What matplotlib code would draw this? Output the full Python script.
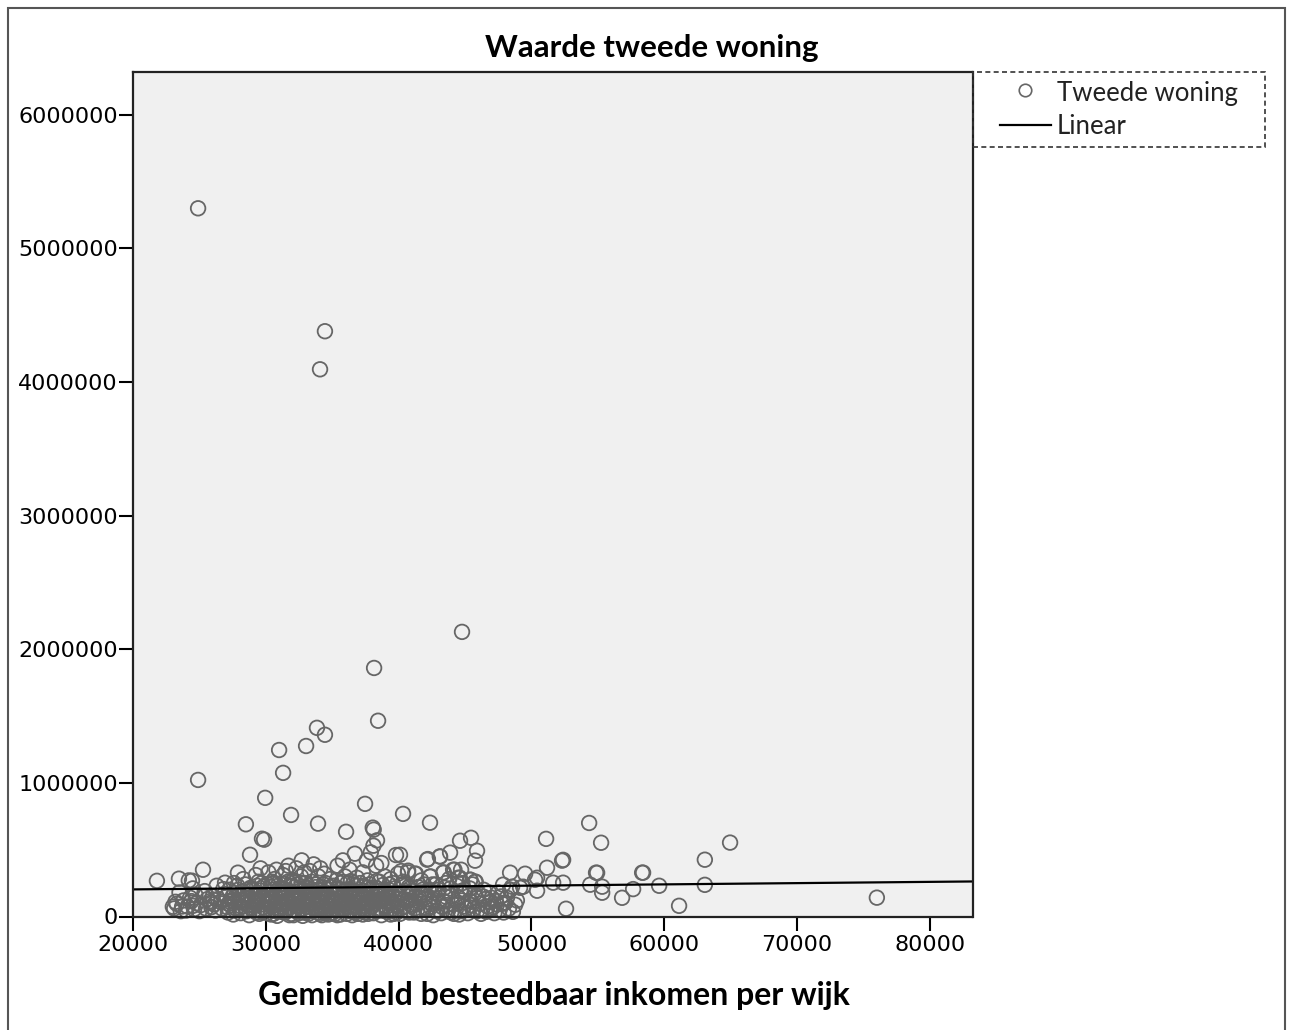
import matplotlib
matplotlib.use("Agg")
import matplotlib.pyplot as plt
import numpy as np
from matplotlib.lines import Line2D
from matplotlib.patches import Rectangle

# Outliers and sparse points (income in euro, value in euro)
outlier_income = [24900, 34450, 34080, 44770, 38150, 38450, 33850, 34450, 31000, 33030,
                  31300, 24900, 29950, 37470, 28500, 31900, 33930, 38050, 38120, 40330,
                  42360, 36040, 29870, 38370, 51100, 54340, 55240, 64950, 63050, 45450,
                  44620, 45900, 58400, 59610, 63050, 61110, 76000, 52600, 29710]
outlier_value = [5300000, 4380000, 4095000, 2130000, 1860000, 1465000, 1412000, 1360000,
                 1246000, 1276000, 1075000, 1022000, 888000, 843000, 690000, 760000, 695000,
                 665000, 650000, 768000, 702000, 634000, 575000, 570000, 581000, 700000,
                 552000, 553000, 425000, 589000, 567000, 492000, 328000, 230000, 237000,
                 80000, 141000, 58000, 582000]

# Points in the upper fringe of the cloud (value in thousands)
spread_income = [21800, 23460, 24440, 25270, 45750, 42140, 43120, 43870, 40710, 41230,
                 40100, 44700, 42360, 43340, 44100, 44480, 45380, 45750, 48390, 49520,
                 50420, 51170, 52380, 54860, 58330, 51630, 52380, 54420, 55320, 56820,
                 57650, 47860, 48540, 49370, 50420, 48770, 50270, 49140, 48390, 48010,
                 55320, 54940, 52300]
spread_value_k = [267, 283, 268, 350, 418, 425, 448, 478, 343, 320,
                  462, 350, 298, 328, 350, 290, 275, 260, 328, 320,
                  290, 365, 424, 328, 328, 253, 253, 238, 178, 140,
                  205, 238, 223, 223, 193, 88, 275, 215, 200, 103,
                  223, 327, 418]

# Dense cloud near the horizontal axis (value in thousands)
core_income = [
    23100, 23300, 23600, 23800, 23500, 23000,
    24100, 24300, 24600, 24800, 24500, 24200, 24520,
    25100, 25300, 25500, 25800, 25400, 25850,
    26100, 26400, 26700, 26900, 26300, 26930,
    27100, 27300, 27500, 27700, 27900, 27600, 27200, 27900,
    28050, 28200, 28400, 28550, 28700, 28850, 28300, 28600, 28900, 28810,
    29050, 29150, 29300, 29450, 29550, 29700, 29800, 29900, 29250, 29600, 29350,
    30050, 30150, 30250, 30350, 30450, 30550, 30650, 30750, 30850, 30950, 30200, 30600, 30800, 30400,
    31050, 31150, 31250, 31350, 31450, 31550, 31650, 31750, 31850, 31950, 31300, 31700, 31100, 31500, 31900,
    32050, 32150, 32250, 32350, 32450, 32550, 32650, 32750, 32850, 32950, 32300, 32700, 32100, 32500, 32900,
    33050, 33150, 33250, 33350, 33450, 33550, 33650, 33750, 33850, 33950, 33300, 33600, 33200, 33800,
    34050, 34150, 34250, 34350, 34450, 34550, 34650, 34750, 34850, 34950, 34400, 34100, 34700,
    35050, 35150, 35250, 35350, 35450, 35550, 35650, 35750, 35850, 35950, 35400, 35800, 35200,
    36050, 36150, 36250, 36350, 36450, 36550, 36650, 36750, 36850, 36950, 36300, 36700, 36500, 36900,
    37050, 37150, 37250, 37350, 37450, 37550, 37650, 37750, 37850, 37950, 37300, 37600, 37900,
    38050, 38150, 38250, 38350, 38450, 38550, 38650, 38750, 38850, 38950, 38300, 38700, 38100,
    39050, 39150, 39250, 39350, 39450, 39550, 39650, 39750, 39850, 39950, 39400, 39800,
    40050, 40150, 40300, 40450, 40600, 40750, 40900, 40200, 40700,
    41050, 41250, 41400, 41600, 41800, 41950, 41300, 41700,
    42100, 42300, 42500, 42700, 42900, 42400, 42200, 42800,
    43050, 43300, 43500, 43700, 43900, 43400, 43100, 43800,
    44100, 44300, 44500, 44700, 44900, 44200, 44600, 44800,
    45100, 45300, 45500, 45700, 45900, 45400, 45800,
    46100, 46300, 46500, 46700, 46900, 46400,
    47100, 47300, 47600, 47800, 47500,
    48000, 48400, 48300,
    # second pass over the saturated band
    23200, 23700, 24000, 24400, 24700, 25000, 25600, 25900, 26200, 26600, 26800, 26000,
    27050, 27150, 27250, 27350, 27450, 27550, 27650, 27750, 27850, 27950,
    28100, 28250, 28350, 28450, 28500, 28650, 28750, 28950, 28150, 28800,
    29000, 29100, 29200, 29400, 29500, 29650, 29750, 29850, 29950, 29450, 29150, 29700,
    30000, 30100, 30180, 30300, 30380, 30500, 30580, 30700, 30780, 30900, 30980, 30120, 30480, 30850,
    31000, 31080, 31180, 31280, 31380, 31480, 31580, 31680, 31780, 31880, 31980, 31220, 31620, 31420,
    32000, 32080, 32200, 32280, 32400, 32480, 32600, 32680, 32800, 32880, 32980, 32180, 32580, 32780,
    33000, 33100, 33200, 33280, 33400, 33480, 33580, 33680, 33780, 33900, 33980, 33120, 33520, 33880,
    34000, 34080, 34200, 34300, 34380, 34500, 34600, 34680, 34800, 34900, 34980, 34220, 34550, 34880,
    35000, 35100, 35180, 35300, 35380, 35500, 35600, 35700, 35800, 35900, 35980, 35220, 35620, 35320,
    36000, 36100, 36200, 36300, 36400, 36500, 36600, 36700, 36800, 36900, 36980, 36150, 36550, 36850,
    37000, 37100, 37200, 37300, 37400, 37500, 37600, 37700, 37800, 37900, 37980, 37250, 37650, 37450,
    38000, 38100, 38200, 38300, 38400, 38500, 38600, 38700, 38800, 38900, 38980, 38350, 38650, 38150,
    39000, 39100, 39200, 39300, 39400, 39500, 39600, 39700, 39800, 39900, 39250, 39650,
    40000, 40100, 40250, 40400, 40500, 40650, 40800, 40950, 40350, 40850,
    41000, 41150, 41300, 41450, 41550, 41700, 41850, 41900, 41200, 41650,
    42000, 42150, 42250, 42400, 42550, 42650, 42800, 42950, 42600,
    43000, 43200, 43350, 43550, 43600, 43750, 43950, 43450,
    44000, 44150, 44350, 44450, 44650, 44750, 44950, 44550,
    45000, 45200, 45350, 45450, 45650, 45850, 45550,
    46000, 46200, 46350, 46600, 46800, 46950,
    47000, 47200, 47400, 47700, 47900,
    48150, 48600, 48900,
]
core_value_k = [
    60, 95, 40, 120, 180, 73,
    75, 140, 55, 100, 210, 270, 80,
    85, 150, 60, 115, 190, 103,
    90, 130, 60, 170, 230, 253,
    70, 110, 150, 45, 200, 250, 95, 328,
    65, 120, 170, 40, 90, 215, 280, 140, 60, 462,
    80, 150, 30, 110, 195, 250, 70, 130, 310, 360, 230,
    50, 100, 160, 220, 75, 130, 280, 40, 190, 110, 330, 250, 350, 15,
    60, 140, 210, 90, 30, 170, 260, 120, 70, 230, 310, 380, 190, 340, 20,
    100, 45, 160, 240, 80, 130, 300, 60, 200, 150, 360, 420, 270, 25, 330,
    70, 120, 180, 40, 260, 100, 150, 220, 85, 300, 340, 390, 20, 50,
    110, 60, 170, 240, 30, 140, 90, 200, 280, 55, 320, 360, 15,
    80, 160, 120, 45, 210, 95, 250, 140, 60, 300, 380, 420, 20,
    130, 70, 190, 40, 110, 240, 160, 85, 290, 50, 350, 470, 10, 20,
    100, 180, 60, 230, 140, 35, 270, 90, 200, 120, 330, 420, 480,
    80, 150, 40, 210, 110, 260, 60, 180, 130, 300, 380, 400, 530,
    70, 140, 200, 50, 110, 250, 90, 170, 30, 320, 280, 460,
    100, 60, 180, 130, 40, 220, 90, 340, 330,
    80, 150, 50, 110, 200, 70, 320, 270,
    60, 130, 95, 180, 40, 300, 430, 240,
    110, 70, 150, 40, 210, 330, 450, 280,
    90, 50, 140, 190, 75, 350, 290, 250,
    60, 120, 85, 170, 40, 275, 260,
    95, 55, 130, 75, 110, 200,
    70, 120, 50, 95, 180,
    103, 200, 60,
    # second pass
    110, 75, 45, 115, 160, 40, 130, 70, 45, 110, 205, 150,
    150, 30, 200, 85, 120, 15, 175, 60, 230, 105,
    25, 190, 100, 240, 55, 165, 10, 130, 75, 205,
    205, 45, 120, 175, 20, 90, 150, 225, 55, 260, 100, 35,
    170, 25, 240, 95, 140, 200, 20, 160, 85, 230, 45, 120, 260, 5,
    210, 100, 35, 155, 245, 115, 50, 195, 10, 145, 265, 70, 100, 185,
    180, 10, 220, 120, 40, 190, 80, 250, 100, 30, 215, 140, 170, 5,
    250, 35, 145, 90, 200, 10, 175, 60, 240, 125, 30, 190, 135, 165,
    200, 20, 130, 75, 185, 250, 40, 160, 105, 220, 130, 10, 90, 20,
    30, 230, 100, 170, 10, 135, 200, 55, 260, 120, 190, 60, 15, 270,
    200, 20, 100, 155, 265, 75, 195, 30, 130, 230, 100, 250, 40, 170,
    40, 250, 135, 15, 190, 100, 160, 20, 240, 70, 170, 80, 215, 55,
    215, 25, 100, 165, 55, 190, 130, 10, 235, 85, 175, 265, 45, 120,
    190, 35, 115, 240, 15, 165, 60, 210, 130, 80, 165, 20,
    155, 20, 240, 75, 190, 120, 30, 165, 260, 210,
    190, 30, 95, 220, 140, 20, 160, 240, 60, 180,
    145, 20, 200, 70, 240, 125, 45, 175, 10,
    200, 25, 115, 250, 85, 175, 30, 215,
    155, 20, 230, 100, 40, 120, 200, 15,
    180, 25, 210, 110, 55, 140, 240,
    170, 20, 150, 35, 180, 60,
    140, 25, 90, 150, 30,
    140, 35, 120,
]

# Linear fit shown by the chart
fit_intercept = 184000
fit_slope = 0.94

x_ticks = [20000, 30000, 40000, 50000, 60000, 70000, 80000]
y_ticks = [0, 1000000, 2000000, 3000000, 4000000, 5000000, 6000000]

W, H = 1292, 1030


def fig_xy(px, py):
    return px / W, 1 - py / H


def make_plot():
    fig = plt.figure(figsize=(W / 100, H / 100), dpi=100)
    fig.patch.set_facecolor("white")

    left, top = fig_xy(133, 72)
    right, bottom = fig_xy(972.5, 916.5)
    ax = fig.add_axes([left, bottom, right - left, top - bottom])
    ax.set_facecolor("#f0f0f0")

    income = np.array(outlier_income + spread_income + core_income, dtype=float)
    value = np.array(outlier_value
                     + [v * 1000 for v in spread_value_k]
                     + [v * 1000 for v in core_value_k], dtype=float)

    ax.scatter(income, value, s=110, facecolors="none", edgecolors="#666666",
               linewidths=1.3, zorder=3, clip_on=False)

    x_min, x_max = 20000, 83200
    xs = np.array([x_min, x_max])
    ax.plot(xs, fit_intercept + fit_slope * xs, color="black", linewidth=1.6, zorder=4)

    ax.set_xlim(x_min, x_max)
    ax.set_ylim(0, 6320000)
    ax.set_xticks(x_ticks)
    ax.set_xticklabels([str(t) for t in x_ticks])
    ax.set_yticks(y_ticks)
    ax.set_yticklabels([str(t) for t in y_ticks])
    ax.tick_params(axis="both", direction="out", length=10, width=1.5,
                   labelsize=16, colors="black", pad=1)
    ax.tick_params(axis="x", pad=3)
    for sp in ax.spines.values():
        sp.set_linewidth(1.6)
        sp.set_color("#222222")
        sp.set_zorder(5)

    tx, ty = fig_xy(652, 48)
    fig.text(tx, ty, "Waarde tweede woning", ha="center", va="center",
             fontsize=22.5, fontweight="bold", family="Lato")
    lx, ly = fig_xy(554, 995)
    fig.text(lx, ly, "Gemiddeld besteedbaar inkomen per wijk", ha="center",
             va="center", fontsize=23, fontweight="bold", family="Lato")

    # legend box (dashed, outside axes)
    bx0, by1 = fig_xy(972.5, 72)
    bx1, by0 = fig_xy(1265, 147)
    fig.add_artist(Rectangle((bx0, by0), bx1 - bx0, by1 - by0, transform=fig.transFigure,
                             fill=False, edgecolor="#333333", linewidth=1.2,
                             linestyle=(0, (3, 2))))
    mx, my = fig_xy(1025, 90)
    fig.add_artist(Line2D([mx], [my], transform=fig.transFigure, marker="o",
                          markersize=9, markerfacecolor="none",
                          markeredgecolor="#666666", markeredgewidth=1.2, linestyle="none"))
    l0, ly2 = fig_xy(1000, 125)
    l1, _ = fig_xy(1051, 125)
    fig.add_artist(Line2D([l0, l1], [ly2, ly2], transform=fig.transFigure,
                          color="black", linewidth=1.6))
    t1x, t1y = fig_xy(1057, 93)
    fig.text(t1x, t1y, "Tweede woning", ha="left", va="center", fontsize=18.5,
             family="Lato", color="#222222")
    t2x, t2y = fig_xy(1057, 126)
    fig.text(t2x, t2y, "Linear", ha="left", va="center", fontsize=18.5,
             family="Lato", color="#222222")

    # outer frame of the chart image
    fx0, fy1 = fig_xy(7.5, 8)
    fx1, fy0 = fig_xy(1285, 1040)
    fig.add_artist(Rectangle((fx0, fy0), fx1 - fx0, fy1 - fy0, transform=fig.transFigure,
                             fill=False, edgecolor="#555555", linewidth=1.5, clip_on=False))

    fig.savefig("out.png", dpi=100)


if __name__ == "__main__":
    make_plot()
